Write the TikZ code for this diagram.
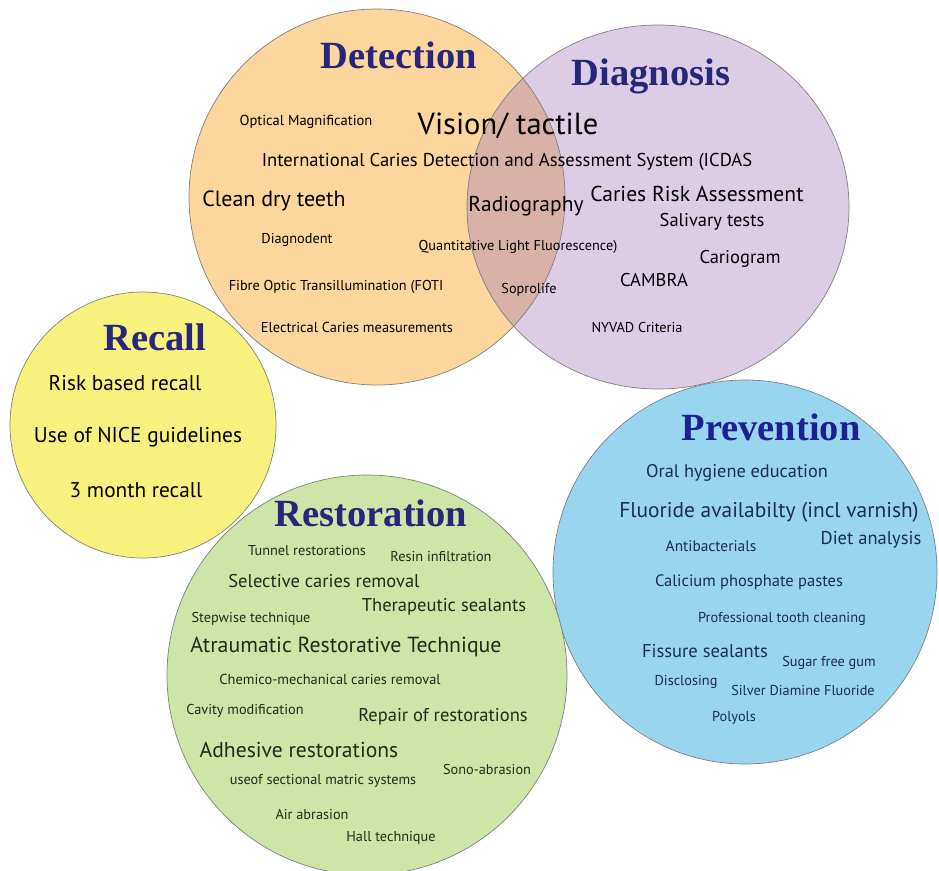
\documentclass[tikz,border=0pt]{standalone}
\usepackage{fontspec}
\newfontfamily\titlefont{Liberation Serif}
\newfontfamily\itemfont{PT Sans}
\definecolor{detfill}{HTML}{FCD69C}
\definecolor{diafill}{HTML}{DCCDE4}
\definecolor{bothfill}{HTML}{D8B2A6}
\definecolor{recfill}{HTML}{F8F17E}
\definecolor{resfill}{HTML}{CDE5A7}
\definecolor{prefill}{HTML}{99D5EF}
\definecolor{titleblue}{HTML}{25267C}
\definecolor{restext}{HTML}{1F2B1C}
\definecolor{pretext}{HTML}{1B2A5C}

\begin{document}
\begin{tikzpicture}[x=1pt,y=-1pt,
    area/.style={draw=black!50,line width=0.7pt},
    title/.style={font={\titlefont\bfseries\fontsize{38.5}{38.5}\selectfont},titleblue},
    item/.style={font={\itemfont\fontsize{#1}{#1}\selectfont},inner sep=0pt}]
\useasboundingbox (0,0) rectangle (939,870);
% circles
\fill[detfill] (377,197) circle (188);
\fill[diafill] (658,207) ellipse (191 and 182);
\begin{scope}
  \clip (377,197) circle (188);
  \fill[bothfill] (658,207) ellipse (191 and 182);
\end{scope}
\draw[area] (377,197) circle (188);
\draw[area] (658,207) ellipse (191 and 182);
\draw[area,fill=recfill] (143,425) circle (133);
\draw[area,fill=prefill] (745,572) circle (192);
\draw[area,fill=resfill] (367,675) circle (200);

% Detection / Diagnosis
\node[title] (det) at (399,55) {Detection};
\node[title] (dia) at (651,76) {Diagnosis};
\node[item=14.5] (optmag) at (306,122) {Optical Magnification};
\node[item=30.5] (vision) at (508,126) {Vision/ tactile};
\node[item=18.6] (icdas) at (507,162) {International Caries Detection and Assessment System (ICDAS};
\node[item=22] (clean) at (274,201) {Clean dry teeth};
\node[item=21.5] (radio) at (526,206) {Radiography};
\node[item=21.6] (cra) at (697,194) {Caries Risk Assessment};
\node[item=18.5] (saliv) at (712,222) {Salivary tests};
\node[item=14.3] (diagn) at (297,240) {Diagnodent};
\node[item=14.3] (qlf) at (518,247) {Quantitative Light Fluorescence)};
\node[item=18.5] (cario) at (740,259) {Cariogram};
\node[item=18.5] (cambra) at (654,280) {CAMBRA};
\node[item=14.3] (foti) at (336,287) {Fibre Optic Transillumination (FOTI};
\node[item=14.3] (sopro) at (529,290) {Soprolife};
\node[item=14.4] (elec) at (357,327) {Electrical Caries measurements};
\node[item=14.3] (nyvad) at (637,327) {NYVAD Criteria};

% Recall
\node[title] (rec) at (155,337) {Recall};
\node[item=21.3] (riskrec) at (125,383) {Risk based recall};
\node[item=21.4] (nice) at (138,437) {Use of NICE guidelines};
\node[item=21.3] (month) at (136,490) {3 month recall};

% Restoration
\node[title] (res) at (371,513) {Restoration};
\begin{scope}[every node/.style={restext}]
\node[item=14.3] (tunnel) at (307,551) {Tunnel restorations};
\node[item=14.3] (resin) at (441,557) {Resin infiltration};
\node[item=18.5] (select) at (324,581) {Selective caries removal};
\node[item=18.5] (thera) at (444,607) {Therapeutic sealants};
\node[item=14.3] (stepw) at (251,619) {Stepwise technique};
\node[item=21.8] (art) at (346,647) {Atraumatic Restorative Technique};
\node[item=14.4] (chemo) at (330,679) {Chemico-mechanical caries removal};
\node[item=14.3] (cavity) at (245,711) {Cavity modification};
\node[item=18.5] (repair) at (443,717) {Repair of restorations};
\node[item=21.6] (adhes) at (299,750) {Adhesive restorations};
\node[item=14.3] (sono) at (487,769) {Sono-abrasion};
\node[item=14.3] (matric) at (323,781) {useof sectional matric systems};
\node[item=14.3] (airab) at (312,814) {Air abrasion};
\node[item=14.3] (hall) at (391,838) {Hall technique};
\end{scope}

% Prevention
\node[title,color=titleblue!85!blue] (pre) at (771,427) {Prevention};
\begin{scope}[every node/.style={pretext}]
\node[item=18.3] (oral) at (737,473) {Oral hygiene education};
\node[item=21.4] (fluor) at (769,512) {Fluoride availabilty (incl varnish)};
\node[item=15.4] (antib) at (711,546) {Antibacterials};
\node[item=18.5] (diet) at (871,540) {Diet analysis};
\node[item=16.5] (calic) at (749,582) {Calicium phosphate pastes};
\node[item=14.4] (profc) at (782,619) {Professional tooth cleaning};
\node[item=18.5] (fissure) at (705,651) {Fissure sealants};
\node[item=14.3] (sugar) at (829,663) {Sugar free gum};
\node[item=14.3] (disc) at (686,682) {Disclosing};
\node[item=14.3] (silver) at (803,690) {Silver Diamine Fluoride};
\node[item=14.3] (polyol) at (734,718) {Polyols};
\end{scope}
\end{tikzpicture}
\end{document}
